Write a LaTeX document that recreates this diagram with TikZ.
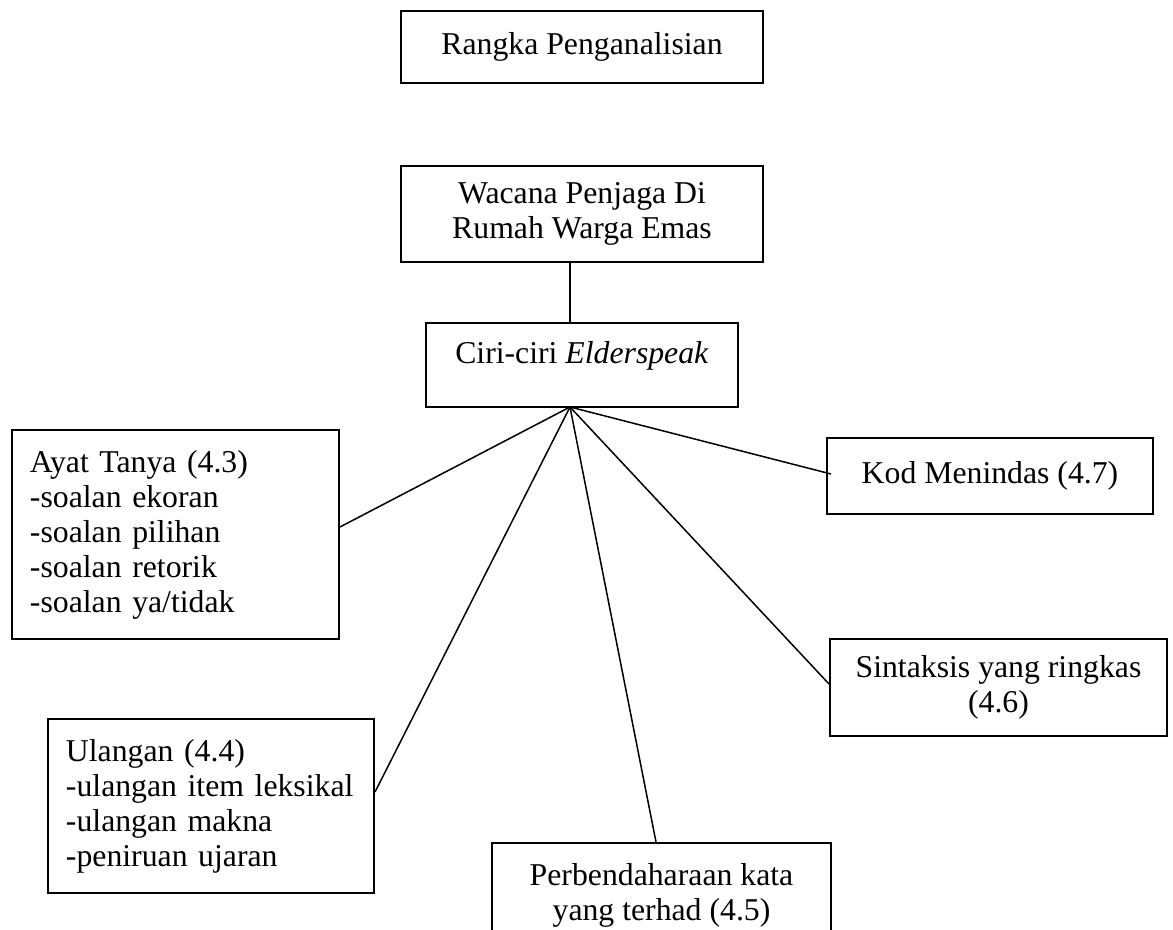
\documentclass[tikz,border=0pt]{standalone}
\usepackage{fontspec}
\setmainfont{Liberation Serif}
\usetikzlibrary{positioning}

\begin{document}
\begin{tikzpicture}[
    x=0.4pt, y=-0.4pt,
    every node/.style={align=center, font=\fontsize{12.7}{14}\selectfont},
    box/.style={draw, line width=0.8pt, inner sep=0pt},
    listbox/.style={box, align=left, inner xsep=7.2pt},
    link/.style={line width=0.6pt}
]
\path[use as bounding box, clip] (0,0) rectangle (1173,930);

\node[box, minimum width=144.8pt, minimum height=28.8pt] (rangka) at (582,47) {Rangka Penganalisian};
\node[box, minimum width=144.8pt, minimum height=38.4pt] (wacana) at (582,214) {Wacana Penjaga Di\\Rumah Warga Emas};
\node[box, minimum width=124.8pt, minimum height=33.6pt, text depth=10.3pt] (ciri) at (582,365) {Ciri-ciri \textit{Elderspeak}};
\coordinate (hub) at (570,407);

\node[listbox, minimum width=130.8pt, minimum height=83.6pt, text width=116.4pt] (ayat) at (175.5,534.5) {Ayat Tanya (4.3)\\-soalan ekoran\\-soalan pilihan\\-soalan retorik\\-soalan ya/tidak};
\node[listbox, minimum width=130.4pt, minimum height=69.6pt, text width=116pt] (ulangan) at (211,806) {Ulangan (4.4)\\-ulangan item leksikal\\-ulangan makna\\-peniruan ujaran};
\node[box, minimum width=135.6pt, minimum height=42pt] (perbend) at (661.5,895.5) {Perbendaharaan kata\\yang terhad (4.5)};
\node[box, minimum width=134.8pt, minimum height=38.8pt] (sintaksis) at (998.5,687.5) {Sintaksis yang ringkas\\(4.6)};
\node[box, minimum width=130.4pt, minimum height=30.4pt] (kod) at (990,476) {Kod Menindas (4.7)};

\draw[link] (hub |- wacana.south) -- (hub |- ciri.north);
\draw[link] (hub) -- ([yshift=3pt]ayat.east);
\draw[link] (hub) -- ([yshift=5.6pt]ulangan.east);
\draw[link] (hub) -- ([xshift=-2.2pt]perbend.north);
\draw[link] (hub) -- ([yshift=1.4pt]sintaksis.west);
\draw[link] (hub) -- ([xshift=2pt,yshift=0.8pt]kod.west);
\end{tikzpicture}
\end{document}
